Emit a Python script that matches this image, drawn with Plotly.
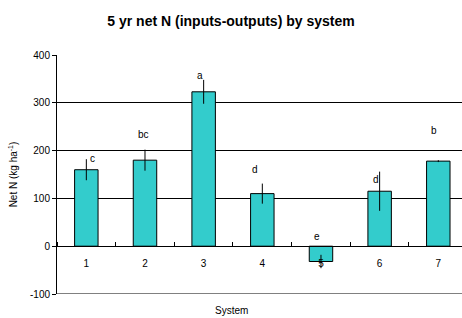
import plotly.graph_objects as go

systems = [1, 2, 3, 4, 5, 6, 7]
net_n = [160, 180, 323, 110, -32, 115, 178]
err = [22, 22, 25, 21, 14, 41, 2]
letters = ["c", "bc", "a", "d", "e", "d", "b"]
y_ticks = [-100, 0, 100, 200, 300, 400]
y_ticktext = ["-100", "0", "100", "200", "300", "400"]

# annotation placement (style)
label_dx = [0.1, -0.02, -0.07, -0.12, -0.07, -0.06, -0.08]
label_y = [184, 233, 358, 160, 21, 140, 242]

font_family = "Liberation Sans, Arial, sans-serif"

fig = go.Figure()
fig.add_trace(go.Bar(
    x=systems, y=net_n, width=0.4,
    marker=dict(color="#33CCCC", line=dict(color="black", width=1)),
    error_y=dict(type="data", array=err, visible=True, width=0, thickness=1, color="black"),
))

for s, l, dx, ly in zip(systems, letters, label_dx, label_y):
    fig.add_annotation(x=s + dx, y=ly, text=l, showarrow=False,
                       font=dict(size=10, color="black", family=font_family))

fig.add_shape(type="line", xref="paper", yref="y", x0=0, x1=1, y0=-100, y1=-100,
              line=dict(color="#808080", width=2))

fig.update_layout(
    width=462, height=318,
    margin=dict(l=57, r=0, t=55, b=24, autoexpand=False),
    paper_bgcolor="white", plot_bgcolor="white",
    showlegend=False,
    font=dict(family=font_family, size=10, color="black"),
    title=dict(text="<b>5 yr net N (inputs-outputs) by system</b>", x=0.5, xanchor="center",
               y=0.935, yanchor="middle", font=dict(size=14, color="black", family=font_family)),
    xaxis=dict(
        range=[0.5, 7.404], tickmode="array", tickvals=systems, ticktext=[str(s) for s in systems],
        ticks="", showgrid=False, zeroline=False, automargin=False,
        showline=True, linecolor="black", linewidth=1,
        anchor="free", position=0.2, ticklabelstandoff=8,
        minor=dict(ticks="inside", tick0=0.5, dtick=1, ticklen=4, tickcolor="black", showgrid=False),
        tickfont=dict(size=10, color="black"),
    ),
    yaxis=dict(
        range=[-100, 400], tickmode="array", tickvals=y_ticks, ticktext=y_ticktext,
        ticks="outside", ticklen=4, tickcolor="black", automargin=False,
        showgrid=True, gridcolor="black", gridwidth=1, zeroline=False,
        showline=True, linecolor="black", linewidth=1,
        tickfont=dict(size=10, color="black"),
        title=dict(text="Net N (kg ha<sup>-1</sup>)", font=dict(size=10, color="black"), standoff=10),
    ),
)
fig.add_annotation(text="System", xref="paper", yref="paper", x=0.43, y=-0.071,
                   showarrow=False, yanchor="middle", font=dict(size=10, color="black"))

fig.write_html("out.html", config={"displayModeBar": False},
               post_script="document.body.style.margin='0';")
